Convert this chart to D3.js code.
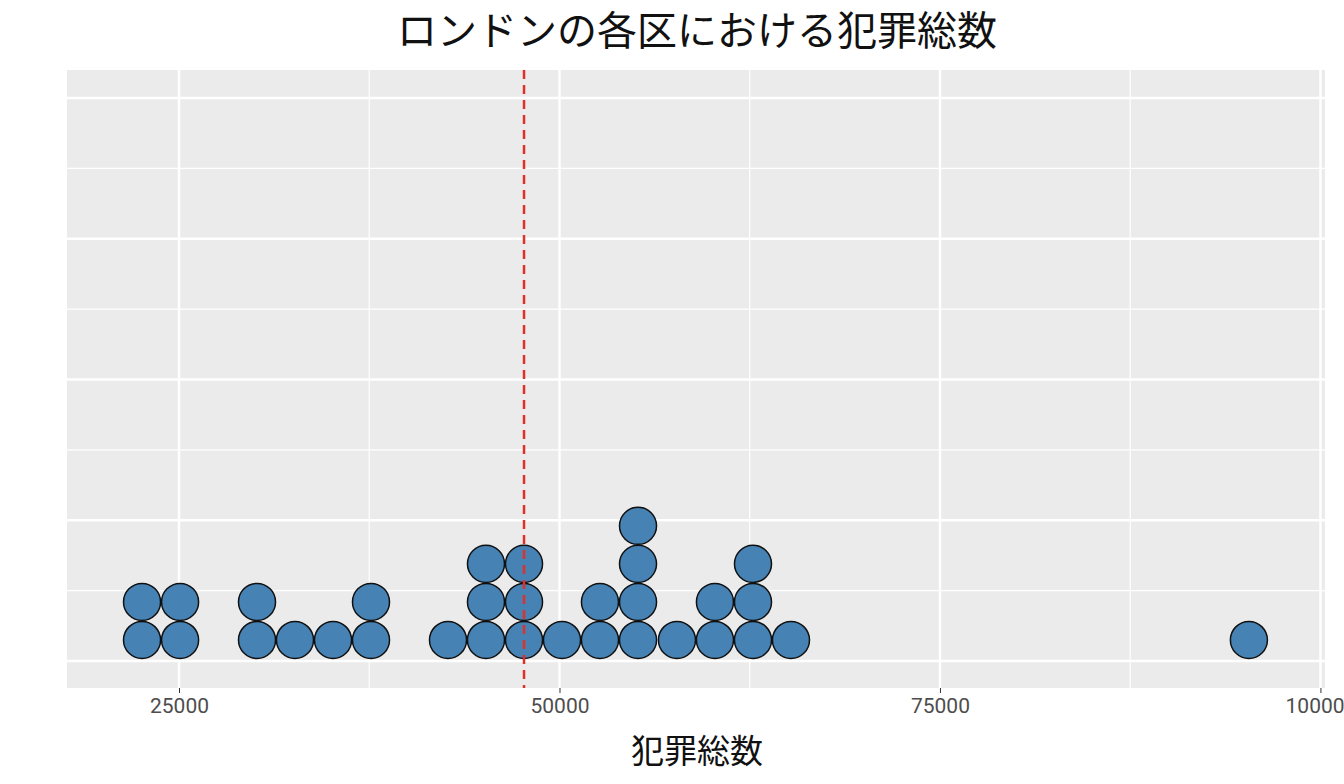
<!DOCTYPE html>
<html><head><meta charset="utf-8">
<script src="https://cdn.jsdelivr.net/npm/d3@7"></script>
<style>body{margin:0;background:#fff;font-family:"Noto Sans CJK JP","Noto Sans",sans-serif;}</style>
</head><body>
<svg id="chart" width="1344" height="784"></svg>
<script>
// dot-plot bins (bin centre, count of boroughs)
var binCenters = [22570, 25070, 30125, 32620, 35120, 37615, 42675, 45170, 47670, 50165, 52660, 55160, 57720, 60215, 62715, 65210, 95300];
var binCounts = [2, 2, 2, 1, 1, 2, 1, 3, 3, 1, 2, 4, 1, 2, 3, 1, 1];
var medianValue = 47670;
var xTicks = [25000, 50000, 75000, 100000];
var xMinor = [37500, 62500, 87500];
var yMajor = [0, 0.25, 0.5, 0.75, 1];
var yMinor = [0.125, 0.375, 0.625, 0.875];

var svg = d3.select('#chart');
var pLeft = 67, pRight = 1325, pTop = 70, pBottom = 688;

var x = d3.scaleLinear().domain([17640, 100300]).range([pLeft, pRight]);
var y = d3.scaleLinear().domain([-0.048, 1.0497]).range([pBottom, pTop]);

svg.append('rect').attr('x', pLeft).attr('y', pTop)
  .attr('width', pRight - pLeft).attr('height', pBottom - pTop).attr('fill', '#ebebeb');

var grid = svg.append('g');
yMinor.forEach(function (v) {
  grid.append('line').attr('x1', pLeft).attr('x2', pRight).attr('y1', y(v)).attr('y2', y(v))
    .attr('stroke', '#fff').attr('stroke-width', 1.2);
});
xMinor.forEach(function (v) {
  grid.append('line').attr('x1', x(v)).attr('x2', x(v)).attr('y1', pTop).attr('y2', pBottom)
    .attr('stroke', '#fff').attr('stroke-width', 1.2);
});
yMajor.forEach(function (v) {
  grid.append('line').attr('x1', pLeft).attr('x2', pRight).attr('y1', y(v)).attr('y2', y(v))
    .attr('stroke', '#fff').attr('stroke-width', 2.4);
});
xTicks.forEach(function (v) {
  grid.append('line').attr('x1', x(v)).attr('x2', x(v)).attr('y1', pTop).attr('y2', pBottom)
    .attr('stroke', '#fff').attr('stroke-width', 2.4);
});

// dots
var binWidth = 2500;
var r = (x(binWidth) - x(0)) / 2;
var dots = [];
binCenters.forEach(function (c, i) {
  for (var k = 0; k < binCounts[i]; k++) dots.push({ v: c, k: k });
});
svg.append('g').selectAll('circle').data(dots).join('circle')
  .attr('cx', function (d) { return x(d.v); })
  .attr('cy', function (d) { return y(0) - r - 2 - d.k * 2 * r; })
  .attr('r', r - 0.5)
  .attr('fill', '#4682b4').attr('stroke', '#111').attr('stroke-width', 1.5);

svg.append('line').attr('x1', x(medianValue)).attr('x2', x(medianValue))
  .attr('y1', pTop).attr('y2', pBottom)
  .attr('stroke', '#e0302a').attr('stroke-width', 2.5).attr('stroke-dasharray', '9,6');

var xAxis = d3.axisBottom(x).tickValues(xTicks).tickSize(5).tickPadding(5).tickFormat(d3.format('d'));
var ax = svg.append('g').attr('transform', 'translate(0,' + pBottom + ')').call(xAxis);
ax.select('.domain').remove();
ax.selectAll('line').attr('stroke', '#333');
ax.selectAll('text').attr('fill', '#4d4d4d').style('font-size', '21px').style('font-family', 'Roboto, "Noto Sans", sans-serif');

svg.append('text').attr('x', 697).attr('y', 45).attr('text-anchor', 'middle')
  .style('font-size', '40px').attr('fill', '#111').text('ロンドンの各区における犯罪総数');
svg.append('text').attr('x', 697).attr('y', 763).attr('text-anchor', 'middle')
  .style('font-size', '33px').attr('fill', '#111').text('犯罪総数');
</script>
</body></html>
